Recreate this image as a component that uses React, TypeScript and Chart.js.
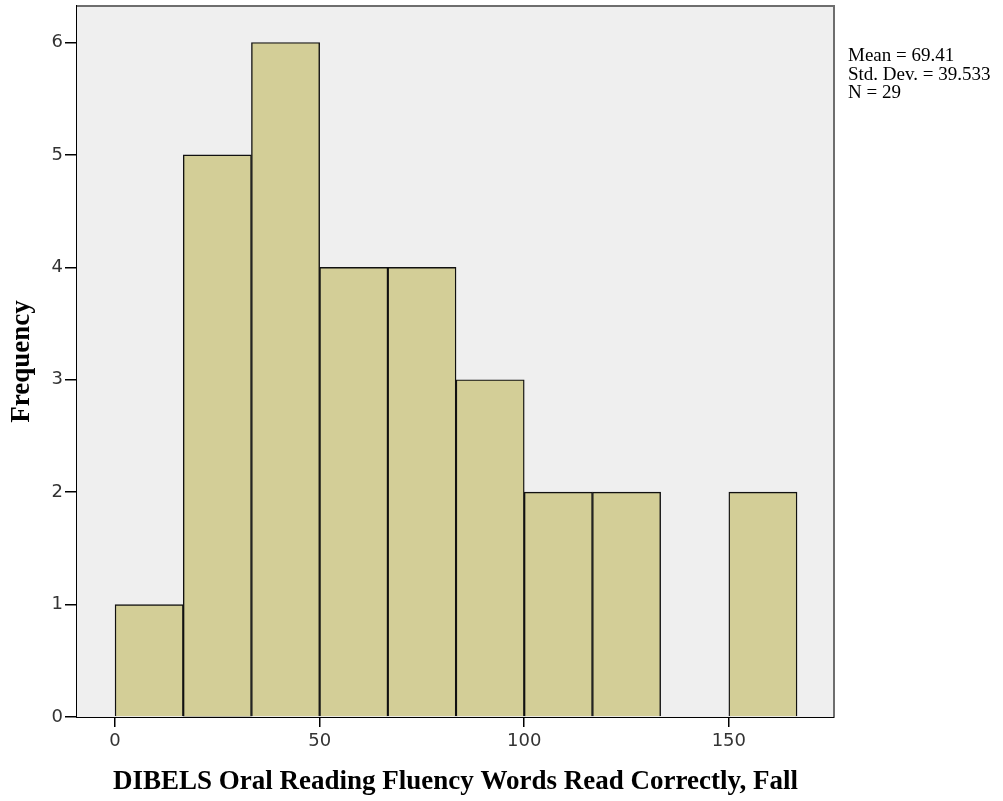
import React, { useEffect, useRef } from "react";
import { Chart, registerables } from "chart.js";

Chart.register(...registerables);

const binLower = [0, 16.67, 33.33, 50, 66.67, 83.33, 100, 116.67, 133.33, 150];
const binUpper = [16.67, 33.33, 50, 66.67, 83.33, 100, 116.67, 133.33, 150, 166.67];
const frequencies = [1, 5, 6, 4, 4, 3, 2, 2, 0, 2];
const xTicks = [0, 50, 100, 150];
const yTicks = [0, 1, 2, 3, 4, 5, 6];
const statsLines = ["Mean = 69.41", "Std. Dev. = 39.533", "N = 29"];
const xTitle = "DIBELS Oral Reading Fluency Words Read Correctly, Fall";
const yTitle = "Frequency";

const W = 1003;
const H = 801;

const framePlugin = {
  id: "frame",
  beforeDatasetsDraw(chart: any) {
    const { ctx, chartArea } = chart;
    ctx.save();
    ctx.fillStyle = "#efefef";
    ctx.fillRect(chartArea.left, chartArea.top, chartArea.right - chartArea.left, chartArea.bottom - chartArea.top);
    ctx.restore();
  },
  afterDraw(chart: any) {
    const { ctx, chartArea } = chart;
    ctx.save();
    ctx.strokeStyle = "#6e6e6e";
    ctx.lineWidth = 2;
    ctx.beginPath();
    ctx.moveTo(chartArea.left, chartArea.top);
    ctx.lineTo(chartArea.right, chartArea.top);
    ctx.lineTo(chartArea.right, chartArea.bottom);
    ctx.stroke();
    ctx.fillStyle = "#000";
    ctx.font = '19px "Liberation Serif", "Times New Roman", serif';
    ctx.textAlign = "left";
    ctx.textBaseline = "alphabetic";
    statsLines.forEach((s, i) => {
      ctx.fillText(s, chartArea.right + 14, 61 + i * 18.6);
    });
    ctx.restore();
  },
};

export default function App() {
  const ref = useRef<HTMLCanvasElement | null>(null);
  useEffect(() => {
    if (!ref.current) return;
    const data = frequencies.map((f, i) => ({
      x: (binLower[i] + binUpper[i]) / 2,
      y: f === 0 ? null : f,
    }));
    const chart = new Chart(ref.current, {
      type: "bar",
      data: {
        datasets: [
          {
            data: data as any,
            backgroundColor: "#d3ce97",
            borderColor: "#111",
            borderWidth: 1.4,
            barPercentage: 1,
            categoryPercentage: 1,
          },
        ],
      },
      options: {
        animation: false,
        responsive: false,
        layout: { padding: { left: 0, top: 6, right: 169, bottom: 0 } },
        plugins: { legend: { display: false }, tooltip: { enabled: false } },
        scales: {
          x: {
            type: "linear",
            min: -9.3,
            max: 175.7,
            offset: false,
            afterBuildTicks: (s: any) => {
              s.ticks = xTicks.map((v) => ({ value: v }));
            },
            afterFit: (s: any) => {
              s.height = 84;
              s.paddingLeft = 0;
              s.paddingRight = 0;
            },
            grid: { offset: false, drawOnChartArea: false, drawTicks: true, tickLength: 10, color: "#000", lineWidth: 1.5 },
            border: { display: true, color: "#000", width: 2 },
            ticks: {
              padding: 4,
              color: "#333",
              font: { family: '"DejaVu Sans", sans-serif', size: 18 },
              maxRotation: 0,
              autoSkip: false,
            },
            title: {
              display: true,
              text: xTitle,
              color: "#000",
              font: { family: '"Liberation Serif", "Times New Roman", serif', size: 27, weight: "bold" },
              padding: { top: 3, bottom: 3 },
            },
          },
          y: {
            type: "linear",
            min: 0,
            max: 6.325,
            afterBuildTicks: (s: any) => {
              s.ticks = yTicks.map((v) => ({ value: v }));
            },
            afterFit: (s: any) => {
              s.width = 77;
              s.paddingTop = 0;
              s.paddingBottom = 0;
            },
            grid: { drawOnChartArea: false, drawTicks: true, tickLength: 12, color: "#000", lineWidth: 1.5 },
            border: { display: true, color: "#000", width: 2 },
            ticks: {
              padding: 2,
              color: "#333",
              font: { family: '"DejaVu Sans", sans-serif', size: 18 },
              autoSkip: false,
            },
            title: {
              display: true,
              text: yTitle,
              color: "#000",
              font: { family: '"Liberation Serif", "Times New Roman", serif', size: 27, weight: "bold" },
              padding: { top: 6, bottom: 6 },
            },
          },
        },
      },
      plugins: [framePlugin],
    });
    return () => chart.destroy();
  }, []);
  return (
    <div style={{ position: "absolute", left: 0, top: 0, width: W, height: H, background: "#fff" }}>
      <canvas ref={ref} width={W} height={H} style={{ display: "block" }} />
    </div>
  );
}
